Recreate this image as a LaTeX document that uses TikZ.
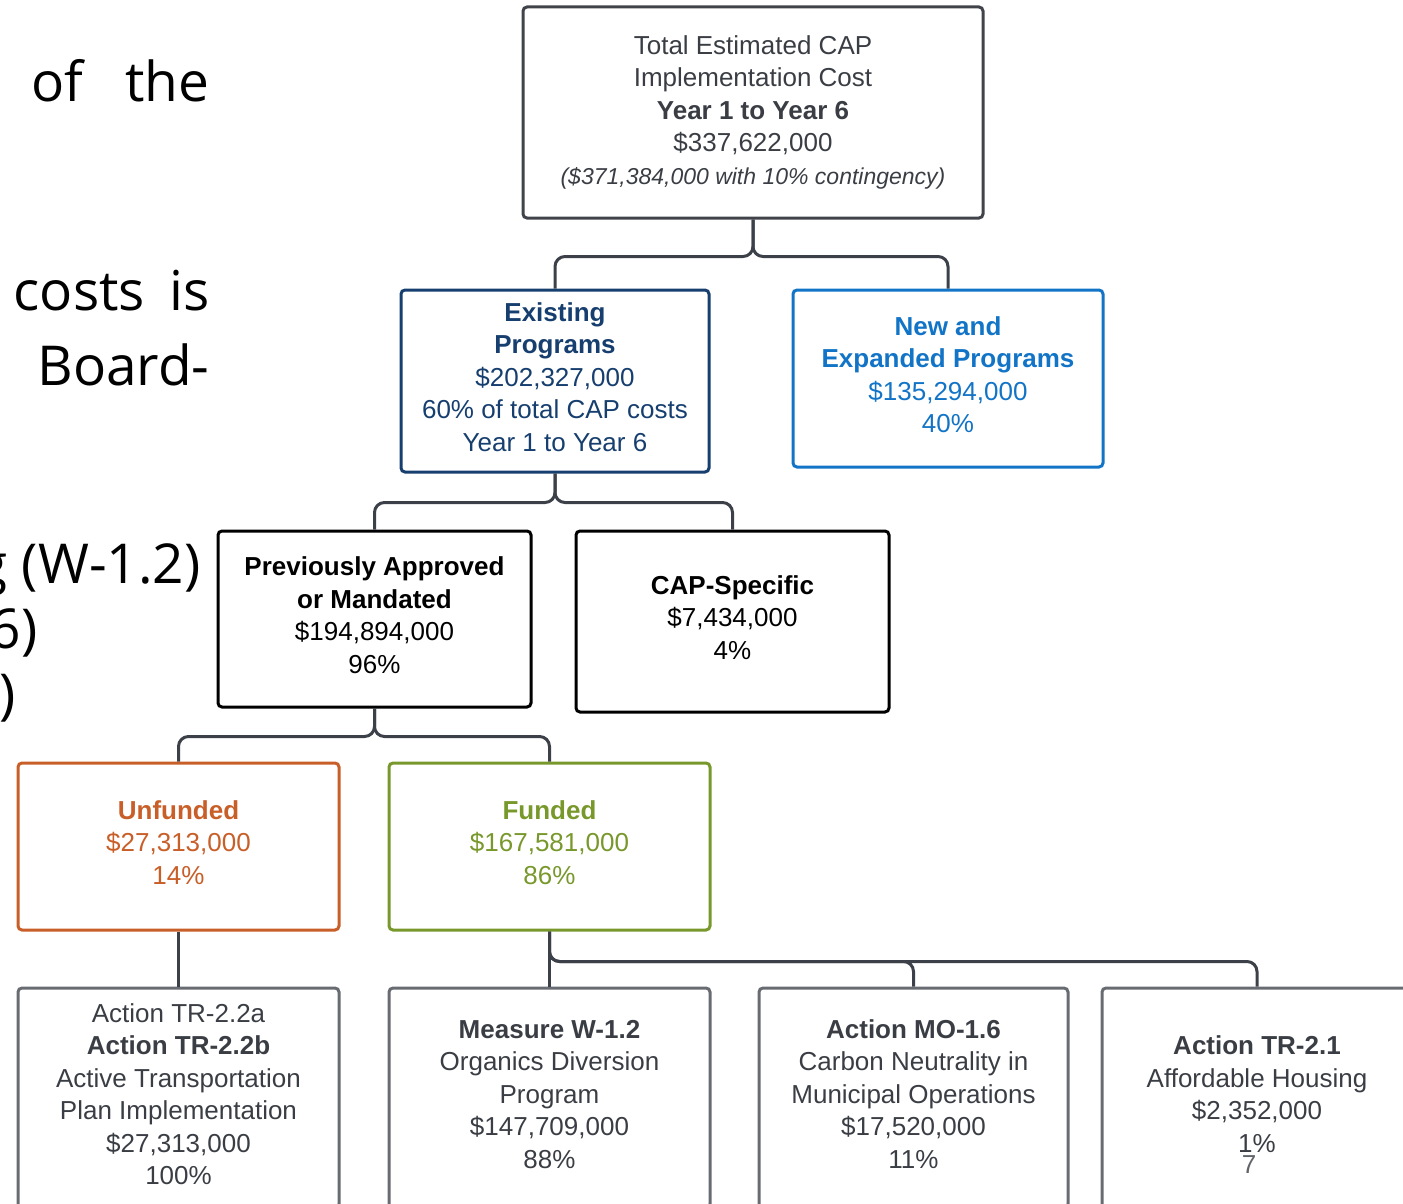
\documentclass[tikz,border=0pt]{standalone}
\usepackage{fontspec}
\setmainfont{Liberation Sans}
\newfontfamily\pagefont{Open Sans}
\usepackage{xcolor}

\definecolor{topgray}{RGB}{64,68,74}
\definecolor{linkgray}{RGB}{60,64,72}
\definecolor{navy}{RGB}{22,62,110}
\definecolor{brightblue}{RGB}{18,116,198}
\definecolor{rust}{RGB}{200,94,40}
\definecolor{olive}{RGB}{120,152,44}
\definecolor{boxgray}{RGB}{104,108,114}
\definecolor{textgray}{RGB}{58,62,68}

\tikzset{
  box/.style={rectangle, rounded corners=2pt, line width=1.5pt, align=center,
    inner sep=0pt, text depth=4pt, font=\fontsize{13}{16.25}\selectfont},
  link/.style={draw=linkgray, line width=1.5pt, rounded corners=5pt},
  pagetext/.style={inner sep=0pt, font=\pagefont\fontsize{27.5}{33}\selectfont}
}

\begin{document}
\begin{tikzpicture}[x=0.5pt, y=-0.5pt]
    \useasboundingbox (0,0) rectangle (1403,1204);
    \clip (0,0) rectangle (1403,1204);
    % Page text cut off at the left
    \node[pagetext, anchor=base east] (ofthe) at (210,102) {\makebox[89pt][s]{of the}};
    \node[pagetext, anchor=base east] (costsis) at (210,310) {\makebox[98pt][s]{costs is}};
    \node[pagetext, anchor=base east] (board) at (210,385) {Board-};
    \node[pagetext, anchor=base east] (wline) at (201,583) {g (W-1.2)};
    \node[pagetext, anchor=base east] (sixline) at (38,648) {6)};
    \node[pagetext, anchor=base east] (parline) at (16,713) {)};
    % Total
    \node[box, text depth=2.6pt, draw=topgray, text=textgray, minimum width=230pt, minimum height=105.5pt] (total) at (753,112.5)
        {Total Estimated CAP\\ Implementation Cost\\ \textbf{Year 1 to Year 6}\\ \$337,622,000\\
         {\fontsize{11.5}{16.25}\selectfont\itshape (\$371,384,000 with 10\% contingency)}};
    % Existing and new
    \node[box, draw=navy, text=navy, minimum width=154pt, minimum height=91pt] (exist) at (555,381)
        {\textbf{Existing}\\ \textbf{Programs}\\ \$202,327,000\\ 60\% of total CAP costs\\ Year 1 to Year 6};
    \node[box, draw=brightblue, text=brightblue, minimum width=155pt, minimum height=88.5pt] (newprog) at (948,378.5)
        {\textbf{New and}\\ \textbf{Expanded Programs}\\ \$135,294,000\\ 40\%};
    % Previously approved and CAP-specific
    \node[box, draw=black, text=black, minimum width=156.5pt, minimum height=88pt] (prev) at (374.5,619)
        {\textbf{Previously Approved}\\ \textbf{or Mandated}\\ \$194,894,000\\ 96\%};
    \node[box, draw=black, text=black, minimum width=156.5pt, minimum height=90.5pt] (capspec) at (732.5,621.5)
        {\textbf{CAP-Specific}\\ \$7,434,000\\ 4\%};
    % Unfunded and funded
    \node[box, draw=rust, text=rust, minimum width=160.5pt, minimum height=83.5pt] (unfunded) at (178.5,846.5)
        {\textbf{Unfunded}\\ \$27,313,000\\ 14\%};
    \node[box, draw=olive, text=olive, minimum width=160.5pt, minimum height=83.5pt] (funded) at (549.5,846.5)
        {\textbf{Funded}\\ \$167,581,000\\ 86\%};
    % Actions
    \node[box, draw=boxgray, text=textgray, minimum width=160.5pt, minimum height=110pt] (trtwo) at (178.5,1098)
        {Action TR-2.2a\\ \textbf{Action TR-2.2b}\\ Active Transportation\\ Plan Implementation\\ \$27,313,000\\ 100\%};
    \node[box, draw=boxgray, text=textgray, minimum width=160.5pt, minimum height=110pt] (wone) at (549.5,1098)
        {\textbf{Measure W-1.2}\\ Organics Diversion\\ Program\\ \$147,709,000\\ 88\%};
    \node[box, draw=boxgray, text=textgray, minimum width=154.5pt, minimum height=110pt] (moone) at (913.5,1098)
        {\textbf{Action MO-1.6}\\ Carbon Neutrality in\\ Municipal Operations\\ \$17,520,000\\ 11\%};
    \node[box, draw=boxgray, text=textgray, minimum width=155pt, minimum height=110pt] (trone) at (1257,1098)
        {\textbf{Action TR-2.1}\\ Affordable Housing\\ \$2,352,000\\ 1\%};
    \node[inner sep=0pt, text=textgray!80, font=\fontsize{13}{16.25}\selectfont] (stray) at (1249,1165) {7};
    % Connectors
    \draw[link] (total.south) -- ++(0,37) -| (exist.north);
    \draw[link] (total.south) -- ++(0,37) -| (newprog.north);
    \draw[link] (exist.south) -- ++(0,29) -| (prev.north);
    \draw[link] (exist.south) -- ++(0,29) -| (capspec.north);
    \draw[link] (prev.south) -- ++(0,28) -| (unfunded.north);
    \draw[link] (prev.south) -- ++(0,28) -| (funded.north);
    \draw[link] (unfunded.south) -- (trtwo.north);
    \draw[link] (funded.south) -- (wone.north);
    \draw[link] (funded.south) -- ++(0,30) -| (moone.north);
    \draw[link] (funded.south) -- ++(0,30) -| (trone.north);
\end{tikzpicture}
\end{document}
